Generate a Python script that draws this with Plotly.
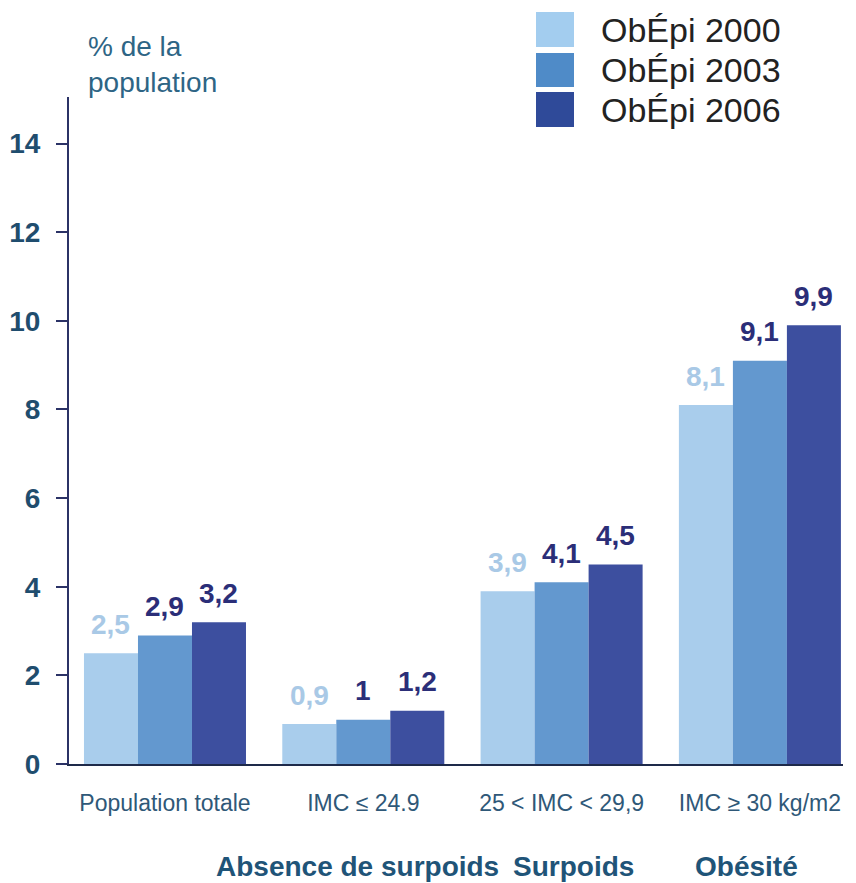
import plotly.graph_objects as go

# ---- data ----
categories = ["Population totale", "IMC ≤ 24.9", "25 < IMC < 29,9", "IMC ≥ 30 kg/m2"]
series_names = ["ObÉpi 2000", "ObÉpi 2003", "ObÉpi 2006"]
values_2000 = [2.5, 0.9, 3.9, 8.1]
values_2003 = [2.9, 1.0, 4.1, 9.1]
values_2006 = [3.2, 1.2, 4.5, 9.9]
group_labels = ["Absence de surpoids", "Surpoids", "Obésité"]
group_label_cats = ["IMC ≤ 24.9", "25 < IMC < 29,9", "IMC ≥ 30 kg/m2"]
y_ticks = [0, 2, 4, 6, 8, 10, 12, 14]

# ---- style ----
FONT = "Liberation Sans, Arial, sans-serif"
bar_colors = ["#a9cdec", "#6398cf", "#3d4f9f"]
legend_colors = ["#a3cdef", "#4f8bc8", "#2f4a99"]
label_colors = ["#a9c9e6", "#2b2e78", "#2b2e78"]

W, H = 856, 883
ML, MR, MT, MB = 69, 13, 97, 119
XR = [-0.484, 3.419]
BARGAP = 0.183

all_values = [values_2000, values_2003, values_2006]

fig = go.Figure()
for name, vals, col in zip(series_names, all_values, bar_colors):
    fig.add_trace(go.Bar(
        x=categories, y=vals, name=name,
        marker=dict(color=col, line=dict(width=0)),
        showlegend=False, hoverinfo="skip",
    ))

plot_w = W - ML - MR
px_per_cat = plot_w / (XR[1] - XR[0])
bar_px = (1 - BARGAP) / 3 * px_per_cat

annotations = []
for j, (vals, lc) in enumerate(zip(all_values, label_colors)):
    for cat, v in zip(categories, vals):
        txt = f"{v:g}".replace(".", ",")
        annotations.append(dict(
            x=cat, y=v, xref="x", yref="y", text=txt, showarrow=False,
            xshift=(j - 1) * bar_px, yshift=29, yanchor="middle",
            font=dict(family=FONT, size=28, color=lc, weight="bold"),
        ))

plot_h = H - MT - MB
def py(ypix):
    return (H - MB - ypix) / plot_h
def px(xpix):
    return (xpix - ML) / plot_w

# group labels below axis
group_shifts = [-6, 12, -13]
for lab, cat, sh in zip(group_labels, group_label_cats, group_shifts):
    annotations.append(dict(
        x=cat, xref="x", y=py(866), yref="paper", text=lab, showarrow=False,
        xshift=sh, yanchor="middle", xanchor="center",
        font=dict(family=FONT, size=28, color="#1f5478", weight="bold"),
    ))

# y-axis title
annotations.append(dict(
    x=px(86), y=py(64), xref="paper", yref="paper", xanchor="left", yanchor="middle",
    text="% de la<br>population", showarrow=False, align="left",
    font=dict(family=FONT, size=28, color="#2e6585"),
))

# custom legend
shapes = []
legend_rows = [(12, 47), (53, 87), (92, 127)]
for name, col, (y0, y1) in zip(series_names, legend_colors, legend_rows):
    shapes.append(dict(
        type="rect", xref="paper", yref="paper",
        x0=px(536), x1=px(574), y0=py(y1), y1=py(y0),
        fillcolor=col, line=dict(width=0),
    ))
    annotations.append(dict(
        x=px(599), y=py((y0 + y1) / 2), xref="paper", yref="paper",
        xanchor="left", yanchor="middle", text=name, showarrow=False,
        font=dict(family=FONT, size=34, color="#222222"),
    ))

fig.update_layout(
    width=W, height=H,
    margin=dict(l=ML, r=MR, t=MT, b=MB, autoexpand=False),
    paper_bgcolor="white", plot_bgcolor="white",
    barmode="group", bargap=BARGAP, bargroupgap=0,
    font=dict(family=FONT),
    annotations=annotations, shapes=shapes,
    xaxis=dict(
        type="category", range=XR, showgrid=False, zeroline=False,
        showline=True, linecolor="#1e2a4a", linewidth=2, automargin=False,
        ticks="", ticklabelstandoff=17,
        tickfont=dict(family=FONT, size=23, color="#2f5878"),
    ),
    yaxis=dict(
        range=[0, 15.05], tickvals=y_ticks, showgrid=False, zeroline=False,
        showline=True, linecolor="#2b3266", linewidth=2, automargin=False,
        ticks="outside", ticklen=11, tickwidth=1.5, tickcolor="#2b3266",
        ticklabelstandoff=10,
        tickfont=dict(family=FONT, size=28, color="#1f4d6e", weight="bold"),
    ),
)

fig.write_html("out.html")
